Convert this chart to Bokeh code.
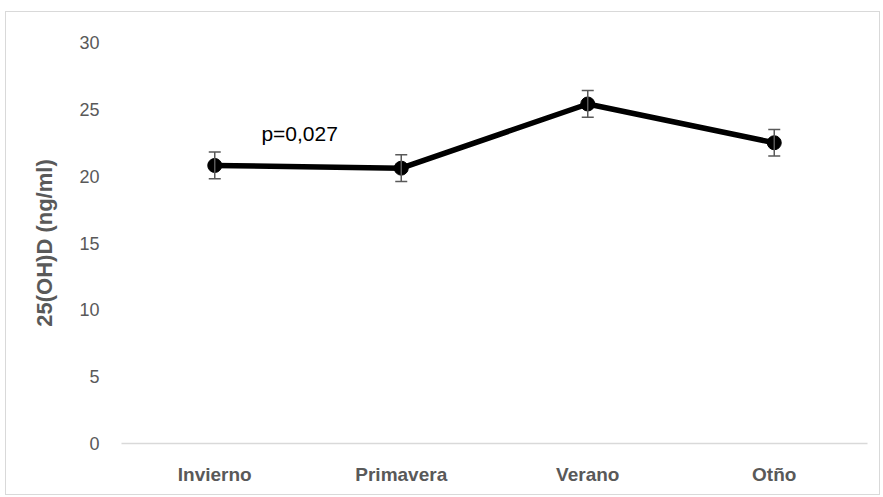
from bokeh.plotting import figure
from bokeh.models import ColumnDataSource, Whisker, TeeHead, Label, Range1d
from bokeh.embed import file_html
from bokeh.resources import INLINE

seasons = ["Invierno", "Primavera", "Verano", "Otño"]
means = [20.8, 20.6, 25.4, 22.5]
errors = [1.0, 1.0, 1.0, 1.0]
y_ticks = [0, 5, 10, 15, 20, 25, 30]
annotation = "p=0,027"

FONT = "Liberation Sans"
GRAY = "#595959"

src = ColumnDataSource(dict(
    x=seasons,
    y=means,
    upper=[m + e for m, e in zip(means, errors)],
    lower=[m - e for m, e in zip(means, errors)],
))

p = figure(width=875, height=484, x_range=seasons, y_range=Range1d(0, 30),
           output_backend="svg", toolbar_location=None,
           min_border_left=115, min_border_right=14, min_border_top=30, min_border_bottom=53)
p.margin = (11, 0, 0, 5)
p.styles = {"border": "1px solid #d9d9d9"}
p.outline_line_color = None
p.xgrid.grid_line_color = None
p.ygrid.grid_line_color = None

p.yaxis.ticker = y_ticks
p.yaxis.axis_line_color = None
p.yaxis.major_tick_line_color = None
p.yaxis.minor_tick_line_color = None
p.yaxis.major_label_text_font = FONT
p.yaxis.major_label_text_font_size = "18px"
p.yaxis.major_label_text_color = GRAY
p.yaxis.major_label_standoff = 16
p.yaxis.axis_label = "25(OH)D (ng/ml)"
p.yaxis.axis_label_text_font = FONT
p.yaxis.axis_label_text_font_style = "bold"
p.yaxis.axis_label_text_font_size = "22px"
p.yaxis.axis_label_text_color = GRAY
p.yaxis.axis_label_standoff = 19

p.xaxis.axis_line_color = "#d9d9d9"
p.xaxis.axis_line_width = 1.5
p.xaxis.major_tick_line_color = None
p.xaxis.minor_tick_line_color = None
p.xaxis.major_label_text_font = FONT
p.xaxis.major_label_text_font_style = "bold"
p.xaxis.major_label_text_font_size = "19px"
p.xaxis.major_label_text_color = GRAY
p.xaxis.major_label_standoff = 14

w = Whisker(source=src, base="x", upper="upper", lower="lower",
            line_color=GRAY, line_width=1.5, level="glyph",
            upper_head=TeeHead(size=12, line_color=GRAY, line_width=1.5),
            lower_head=TeeHead(size=12, line_color=GRAY, line_width=1.5))
p.add_layout(w)

p.line("x", "y", source=src, line_color="black", line_width=5.5)
p.scatter("x", "y", source=src, size=14, fill_color="black", line_color="black")

p.add_layout(Label(x=0.75, y=23.2, text=annotation, text_font=FONT,
                   text_font_size="21px", text_color="black", text_baseline="middle"))

open("out.html", "w").write(file_html(p, INLINE))
